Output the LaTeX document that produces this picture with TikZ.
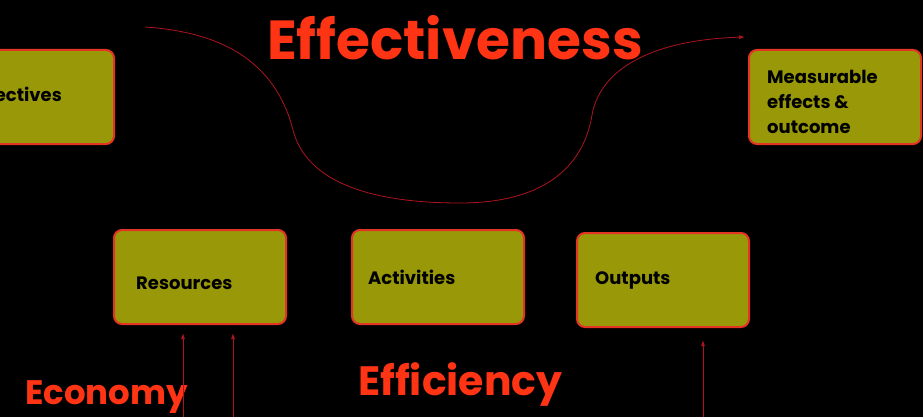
\documentclass[tikz,border=0pt]{standalone}
\usepackage{fontspec}
\setmainfont{Poppins}
\usepackage{xcolor}
\usepackage{tikz}
\usetikzlibrary{arrows.meta}

\definecolor{boxfill}{RGB}{152,152,8}
\definecolor{boxline}{RGB}{228,52,36}
\definecolor{titlered}{RGB}{255,52,20}
\definecolor{curvered}{RGB}{175,20,30}

\tikzset{
  box/.style={draw=boxline, fill=boxfill, line width=2pt, rounded corners=8pt,
    minimum width=172pt, minimum height=94pt, inner sep=0pt},
  boxtext/.style={text=black, inner sep=0pt, align=left,
    font=\bfseries\fontsize{18}{25}\selectfont},
  bigtitle/.style={text=titlered, inner sep=0pt, font=\bfseries\fontsize{55}{55}\selectfont},
  subtitle/.style={text=titlered, inner sep=0pt, font=\bfseries\fontsize{34}{34}\selectfont},
  flow/.style={draw=curvered, line width=0.8pt, -{Latex[length=6pt,width=4pt]}}
}

\begin{document}
\begin{tikzpicture}[x=1pt,y=-1pt]
        %% Background and size of the page
        \fill[black] (0,0) rectangle (923,417);
        \useasboundingbox (0,0) rectangle (923,417);

        %% The five boxes
        \node [box] (obj) at (28,97) {};
        \node [box] (meas) at (835,97) {};
        \node [box] (res) at (200,277) {};
        \node [box] (act) at (438,277) {};
        \node [box] (out) at (663,280) {};

        %% Box texts
        \node [boxtext, anchor=east] (objtext) at (62,97) {Objectives};
        \node [boxtext, anchor=west] (meastext) at (767,102) {Measurable\\effects \&\\outcome};
        \node [boxtext, anchor=west] (restext) at (136,283) {Resources};
        \node [boxtext, anchor=west] (acttext) at (368,277) {Activities};
        \node [boxtext, anchor=west] (outtext) at (595,280) {Outputs};

        %% Titles
        \node [bigtitle, anchor=base] (effect) at (455,60) {Effectiveness};
        \node [subtitle, anchor=base west] (econ) at (25,404) {Economy};
        \node [subtitle, anchor=base west, font=\bfseries\fontsize{41}{41}\selectfont] (effic) at (358,395) {Efficiency};

        %% The S curve
        \coordinate (cstart) at (145,27);
        \coordinate (cleft) at (293,130);
        \coordinate (cbottom) at (460,203);
        \coordinate (cright) at (592,115);
        \coordinate (cend) at (745,37);
        \draw [flow] (cstart) .. controls (220,32) and (275,60) .. (cleft)
                     .. controls (305,177) and (360,203) .. (cbottom)
                     .. controls (540,203) and (583,170) .. (cright)
                     .. controls (600,70) and (650,40) .. (cend);

        %% Arrows from below
        \coordinate (up1) at (183,417);
        \coordinate (up2) at (233,417);
        \coordinate (up3) at (703,417);
        \draw [flow, shorten >=8pt] (up1) -- (up1 |- res.south);
        \draw [flow, shorten >=8pt] (up2) -- (up2 |- res.south);
        \draw [flow, shorten >=12pt] (up3) -- (up3 |- out.south);
\end{tikzpicture}
\end{document}
